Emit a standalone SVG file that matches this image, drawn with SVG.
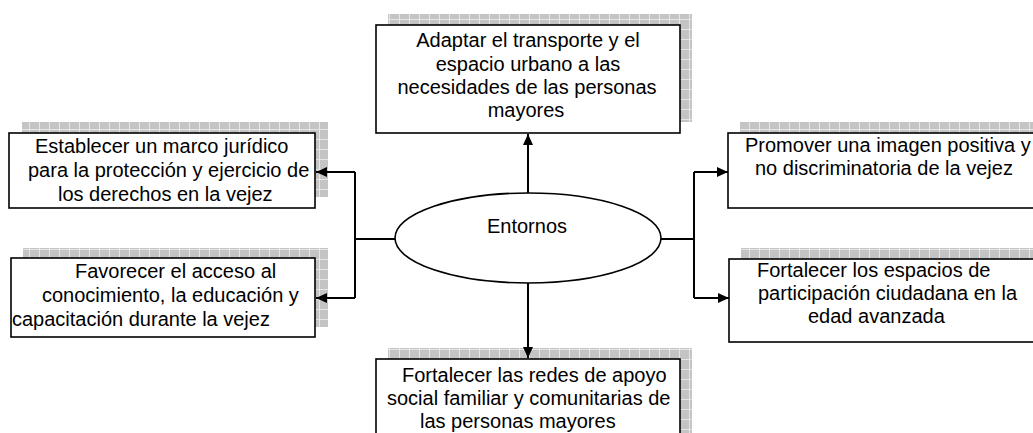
<svg xmlns="http://www.w3.org/2000/svg" width="1033" height="433" viewBox="0 0 1033 433">
<style>
.box{fill:#fff;stroke:#000;stroke-width:1.6}
.sh{fill:url(#grid)}
.t{font-family:"Liberation Sans",Arial,sans-serif;font-size:20px;fill:#000}
.c{fill:none;stroke:#000;stroke-width:2}
</style>
<defs>
<pattern id="grid" patternUnits="userSpaceOnUse" width="10" height="10">
<rect width="10" height="10" fill="#c4c4c4"/>
<path d="M9.5,0V10M0,9.5H10" stroke="#e6e6e6" stroke-width="1"/>
</pattern>
<marker id="arr" markerUnits="userSpaceOnUse" markerWidth="12" markerHeight="10" refX="11" refY="5" orient="auto">
<path d="M0,0L11,5L0,10z" fill="#000"/>
</marker>
</defs>
<g id="n-top">
<rect class="sh" x="388" y="14" width="304" height="108"/>
<rect class="box" x="376" y="25" width="304" height="108"/>
<text class="t" text-anchor="middle"><tspan x="528" y="47">Adaptar el transporte y el</tspan><tspan x="528" y="70.5">espacio urbano a las</tspan><tspan x="527" y="94">necesidades de las personas</tspan><tspan x="526" y="117">mayores</tspan></text>
</g>
<g id="n-left-top">
<rect class="sh" x="22" y="122" width="306" height="75"/>
<rect class="box" x="9" y="133" width="306" height="75"/>
<text class="t"><tspan x="35" y="153">Establecer un marco jurídico</tspan><tspan x="28" y="177">para la protección y ejercicio de</tspan><tspan x="58" y="201">los derechos en la vejez</tspan></text>
</g>
<g id="n-left-bottom">
<rect class="sh" x="23" y="248" width="305" height="79"/>
<rect class="box" x="11" y="258" width="304" height="79"/>
<text class="t"><tspan x="75" y="278">Favorecer el acceso al</tspan><tspan x="42" y="302">conocimiento, la educación y</tspan><tspan x="12" y="325.5">capacitación durante la vejez</tspan></text>
</g>
<g id="n-right-top">
<rect class="sh" x="740" y="122" width="320" height="75"/>
<rect class="box" x="728" y="133" width="320" height="75"/>
<text class="t"><tspan x="745" y="152">Promover una imagen positiva y</tspan><tspan x="755" y="175">no discriminatoria de la vejez</tspan></text>
</g>
<g id="n-right-bottom">
<rect class="sh" x="741" y="248" width="320" height="83"/>
<rect class="box" x="729" y="259" width="320" height="83"/>
<text class="t"><tspan x="757" y="277">Fortalecer los espacios de</tspan><tspan x="758" y="300">participación ciudadana en la</tspan><tspan x="808" y="323">edad avanzada</tspan></text>
</g>
<g id="n-bottom">
<rect class="sh" x="388" y="348" width="304" height="100"/>
<rect class="box" x="376" y="359" width="304" height="100"/>
<text class="t"><tspan x="402" y="382">Fortalecer las redes de apoyo</tspan><tspan x="387" y="405">social familiar y comunitarias de</tspan><tspan x="420" y="428">las personas mayores</tspan></text>
</g>
<g id="connectors">
<path class="c" d="M395,239H355M355,172V298M694,172V298M661,239H694"/>
<path class="c" d="M355,172H316" marker-end="url(#arr)"/>
<path class="c" d="M355,298H316" marker-end="url(#arr)"/>
<path class="c" d="M694,172H728" marker-end="url(#arr)"/>
<path class="c" d="M694,298H729" marker-end="url(#arr)"/>
<path class="c" d="M528,193V134" marker-end="url(#arr)"/>
<path class="c" d="M528,283V358" marker-end="url(#arr)"/>
</g>
<g id="n-center">
<ellipse cx="528" cy="238" rx="133" ry="45" fill="#fff" stroke="#000" stroke-width="1.6"/>
<text class="t" x="527" y="233" text-anchor="middle">Entornos</text>
</g>
</svg>
